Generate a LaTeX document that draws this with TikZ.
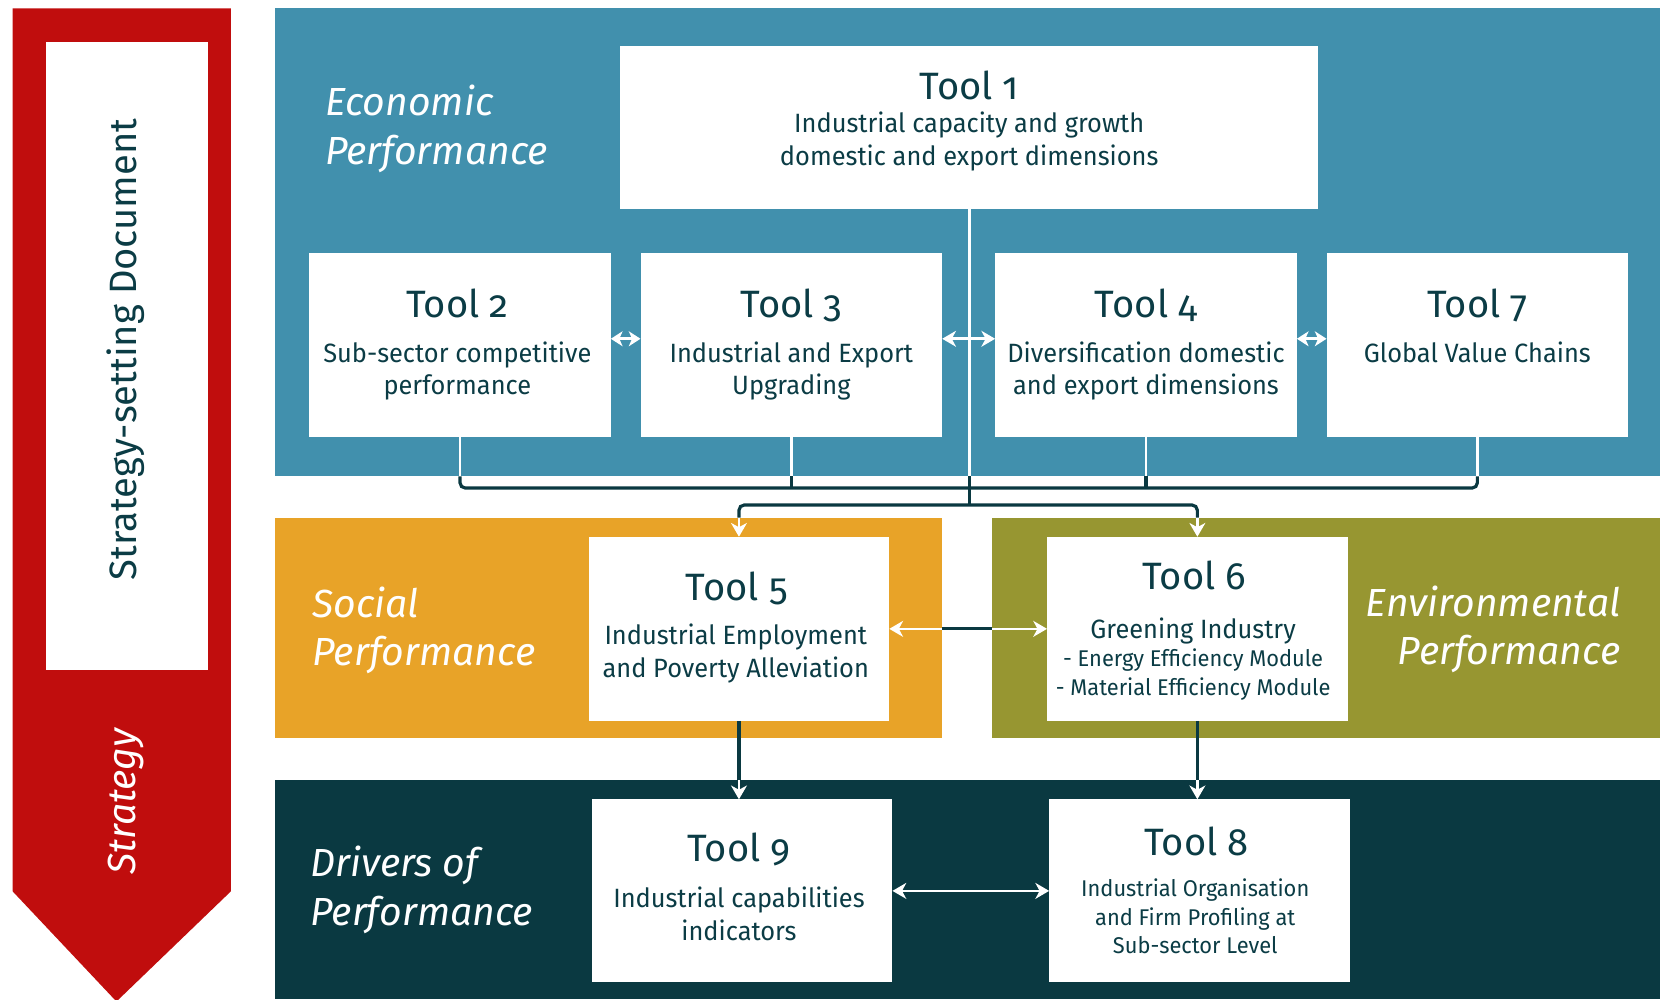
\documentclass[tikz,border=0pt]{standalone}
\usepackage{fontspec}
\setmainfont{Fira Sans}[Numbers=OldStyle]
\newfontfamily\descfont{Fira Sans}[Numbers=OldStyle, FakeStretch=0.96]
\usetikzlibrary{arrows.meta}
\definecolor{ecoblue}{HTML}{4190AD}
\definecolor{socorange}{HTML}{E8A328}
\definecolor{envolive}{HTML}{979631}
\definecolor{drvdark}{HTML}{0A3941}
\definecolor{stratred}{HTML}{C00D0D}
\definecolor{txtdark}{HTML}{0B3C45}
\newcommand{\mkC}[1]{\begin{tabular}[t]{@{}c@{}}#1\end{tabular}}
\newcommand{\mkL}[1]{\begin{tabular}[t]{@{}l@{}}#1\end{tabular}}
\newcommand{\mkR}[1]{\begin{tabular}[t]{@{}r@{}}#1\end{tabular}}
\begin{document}
\begin{tikzpicture}[x=1pt,y=-1pt,
  panel/.style={draw=none, inner sep=0pt, outer sep=0pt, anchor=north west},
  toolbox/.style={fill=white, draw=none, inner sep=0pt, outer sep=0pt, anchor=north west},
  ttitle/.style={anchor=base, text=txtdark, inner sep=0pt, font=\fontsize{36}{36}\selectfont},
  tdesc/.style={anchor=base, text=txtdark, inner sep=0pt, font=\descfont\fontsize{25}{31}\selectfont},
  tsmall/.style={anchor=base, text=txtdark, inner sep=0pt, font=\descfont\fontsize{21.5}{27}\selectfont},
  lbl/.style={text=white, inner sep=0pt, font=\fontsize{37}{46}\selectfont\itshape},
  darkline/.style={draw=drvdark, line width=3pt},
  whiteline/.style={draw=white, line width=2.5pt},
  head/.tip={Stealth[length=13pt,width=15pt,inset=4pt]},
  shead/.tip={Stealth[length=11pt,width=14pt,inset=3pt]}
]
\useasboundingbox (0,0) rectangle (1568,944);

% strategy arrow
\fill[stratred] (12,8) -- (218,8) -- (218,842) -- (110,946) -- (12,842) -- cycle;
\fill[white] (43,40) rectangle (196,633);
\node[rotate=90, text=txtdark, font=\fontsize{36}{36}\selectfont] (stdoc) at (119,330) {Strategy-setting Document};
\node[rotate=90, text=white, font=\fontsize{37}{37}\selectfont\itshape] (strat) at (119,757) {Strategy};

% panels
\node[panel, fill=ecoblue, minimum width=1308pt, minimum height=442pt] (econ) at (260,8) {};
\node[panel, fill=socorange, minimum width=630pt, minimum height=208pt] (soc) at (260,489) {};
\node[panel, fill=envolive, minimum width=631pt, minimum height=208pt] (env) at (937,489) {};
\node[panel, fill=drvdark, minimum width=1308pt, minimum height=207pt] (drv) at (260,737) {};

% boxes
\node[toolbox, minimum width=659pt, minimum height=154pt] (t1) at (586,43) {};
\node[toolbox, minimum width=285pt, minimum height=174pt] (t2) at (292,239) {};
\node[toolbox, minimum width=285pt, minimum height=174pt] (t3) at (605,239) {};
\node[toolbox, minimum width=285pt, minimum height=174pt] (t4) at (940,239) {};
\node[toolbox, minimum width=285pt, minimum height=174pt] (t7) at (1253,239) {};
\node[toolbox, minimum width=284pt, minimum height=174pt] (t5) at (556,507) {};
\node[toolbox, minimum width=284pt, minimum height=174pt] (t6) at (989,507) {};
\node[toolbox, minimum width=284pt, minimum height=173pt] (t9) at (559,755) {};
\node[toolbox, minimum width=284pt, minimum height=173pt] (t8) at (991,755) {};

% panel labels
\node[lbl, anchor=base west] (ecolbl) at (307,109) {\mkL{Economic\\Performance}};
\node[lbl, anchor=base west] (soclbl) at (295,583) {\mkL{Social\\Performance}};
\node[lbl, anchor=base east] (envlbl) at (1531,582) {\mkR{Environmental\\Performance}};
\node[lbl, anchor=base west] (drvlbl) at (293,828) {\mkL{Drivers of\\Performance}};

% box texts
\node[ttitle] (t1h) at (915.5,94) {Tool 1};
\node[tdesc] (t1d) at (915.5,125) {\mkC{Industrial capacity and growth\\domestic and export dimensions}};
\node[ttitle] (t2h) at (432,300) {Tool 2};
\node[tdesc] (t2d) at (432,342) {\mkC{Sub-sector competitive\\performance}};
\node[ttitle] (t3h) at (747.5,300) {Tool 3};
\node[tdesc] (t3d) at (747.5,342) {\mkC{Industrial and Export\\Upgrading}};
\node[ttitle] (t4h) at (1082.5,300) {Tool 4};
\node[tdesc] (t4d) at (1082.5,342) {\mkC{Diversification domestic\\and export dimensions}};
\node[ttitle] (t7h) at (1395.5,300) {Tool 7};
\node[tdesc] (t7d) at (1395.5,342) {\mkC{Global Value Chains}};
\node[ttitle] (t5h) at (696,567) {Tool 5};
\node[tdesc] (t5d) at (695,609) {\mkC{Industrial Employment\\and Poverty Alleviation}};
\node[ttitle] (t6h) at (1128,557) {Tool 6};
\node[tdesc] (t6d) at (1127,603) {Greening Industry};
\node[tsmall] (t6m) at (1127,630) {\mkC{- Energy Efficiency Module\\- Material Efficiency Module}};
\node[ttitle] (t9h) at (698,814) {Tool 9};
\node[tdesc] (t9d) at (698,857) {\mkC{Industrial capabilities\\indicators}};
\node[ttitle] (t8h) at (1130,808) {Tool 8};
\node[tsmall] (t8d) at (1129,847) {\mkC{Industrial Organisation\\and Firm Profiling at\\Sub-sector Level}};

% bracket coordinates
\coordinate (brkA) at (0,461);
\coordinate (brkB) at (0,477);

% bracket from tools 2,3,4,7
\draw[darkline, rounded corners=5pt] (t2.south |- econ.south) |- (brkA -| t7.south) -- (t7.south |- econ.south);
\draw[darkline] (t3.south |- econ.south) -- (t3.south |- brkA);
\draw[darkline] (t4.south |- econ.south) -- (t4.south |- brkA);
\draw[whiteline] (t2.south) -- (t2.south |- econ.south);
\draw[whiteline] (t3.south) -- (t3.south |- econ.south);
\draw[whiteline] (t4.south) -- (t4.south |- econ.south);
\draw[whiteline] (t7.south) -- (t7.south |- econ.south);

% tool 1 trunk
\draw[whiteline] (t1.south) -- (t1.south |- econ.south);
\draw[darkline] (t1.south |- econ.south) -- (t1.south |- brkB);

% second bracket to tools 5 and 6
\draw[darkline, rounded corners=5pt] (t5.north |- soc.north) |- (brkB -| t6.north) -- (t6.north |- env.north);
\draw[whiteline, -{head}] (t5.north |- soc.north) -- (t5.north);
\draw[whiteline, -{head}] (t6.north |- env.north) -- (t6.north);

% horizontal arrows in economic panel
\draw[whiteline, {shead}-{shead}] ([yshift=6pt]t2.east) -- ([yshift=6pt]t3.west);
\draw[whiteline, {head}-{head}] ([yshift=6pt]t3.east) -- ([yshift=6pt]t4.west);
\draw[whiteline, {shead}-{shead}] ([yshift=6pt]t4.east) -- ([yshift=6pt]t7.west);

% tool 5 <-> tool 6
\draw[darkline] (soc.east |- t5.east) -- (env.west |- t6.west);
\draw[whiteline, -{head}] (soc.east |- t5.east) -- (t5.east);
\draw[whiteline, -{head}] (env.west |- t6.west) -- (t6.west);

% down arrows
\draw[darkline] (t5.south) -- (t5.south |- drv.north);
\draw[whiteline, -{head}] (t5.south |- drv.north) -- (t5.south |- t9.north);
\draw[darkline] (t6.south) -- (t6.south |- drv.north);
\draw[whiteline, -{head}] (t6.south |- drv.north) -- (t6.south |- t8.north);

% tool 9 <-> tool 8
\draw[whiteline, {head}-{head}] (t9.east) -- (t8.west);
\end{tikzpicture}
\end{document}
